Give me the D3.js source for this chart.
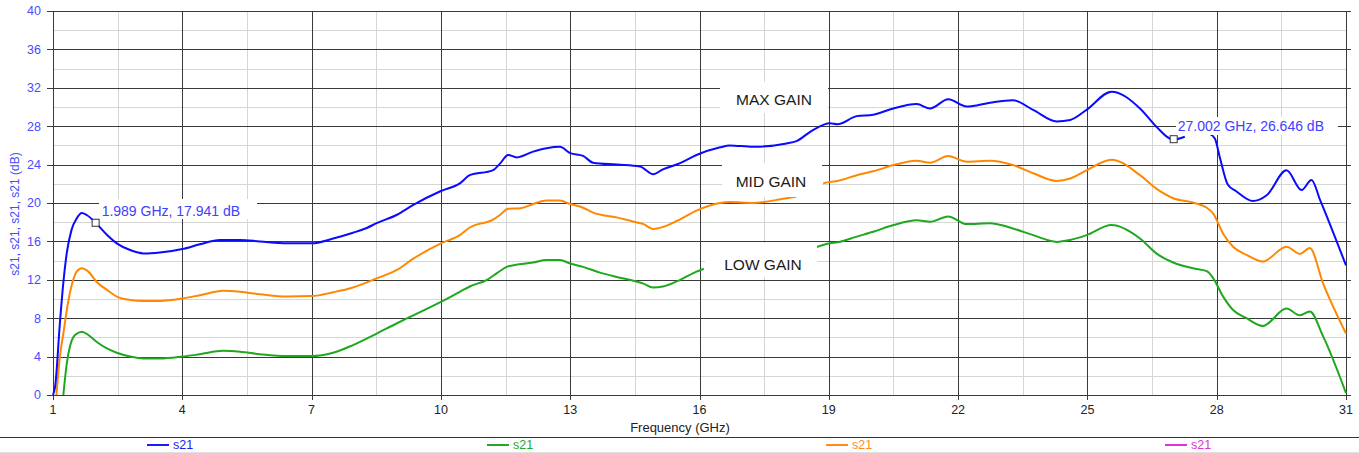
<!DOCTYPE html>
<html>
<head>
<meta charset="utf-8">
<script src="https://cdn.jsdelivr.net/npm/d3@7"></script>
<style>
  body { margin: 0; background: #fff; }
  text { font-family: "Liberation Sans", Arial, sans-serif; }
</style>
</head>
<body>
<svg width="1359" height="453"></svg>
<script>
// tick values
var xTicks = [1, 4, 7, 10, 13, 16, 19, 22, 25, 28, 31];
var xMinor = [2.5, 5.5, 8.5, 11.5, 14.5, 17.5, 20.5, 23.5, 26.5, 29.5];
var yTicks = [0, 4, 8, 12, 16, 20, 24, 28, 32, 36, 40];
var yMinor = [2, 6, 10, 14, 18, 22, 26, 30, 34, 38];

// MAX GAIN (blue), null = hidden behind a label
var maxFreq = [1.0, 1.05, 1.16, 1.24, 1.32, 1.43, 1.55, 1.67, 1.78, 1.989, 2.25, 2.48, 2.79, 3.1, 3.48, 4.0, 4.41, 4.87, 5.34, 5.8, 6.42, 7.0, 7.5, 7.96, 8.28, 8.51, 8.97, 9.36, 10.0, 10.44, 10.67, 11.2, 11.37, 11.56, 11.76, 12.14, 12.45, 12.76, 13.0, 13.3, 13.53, 14.08, 14.62, 14.92, 15.15, 15.55, 15.93, 16.48, 16.7, 17.24, 18.02, 18.25, 18.63, 19.03, 19.2, 19.65, 20.03, 20.5, 21.04, 21.35, 21.77, 22.2, 22.74, 23.27, 23.74, 24.29, 24.6, 24.98, 25.56, 26.22, 26.6, 26.99, 27.26, 27.5, 27.84, 27.96, 28.07, 28.26, 28.46, 28.84, 29.16, 29.62, 29.97, 30.2, 30.4, 31.0];
var maxDb = [0, 0.9, 7.5, 11.7, 14.8, 17.2, 18.4, 18.95, 18.75, 17.94, 16.7, 15.8, 15.1, 14.75, 14.85, 15.2, 15.7, 16.15, 16.15, 16.0, 15.8, 15.8, 16.3, 16.9, 17.4, 17.9, 18.75, 19.8, 21.25, 22.05, 22.9, 23.4, 24.1, 25.0, 24.75, 25.35, 25.7, 25.85, 25.2, 24.9, 24.2, 24.0, 23.8, 23.0, 23.5, 24.15, 25.0, 25.8, 26.0, 25.85, 26.2, 26.45, 27.6, 28.3, 28.2, 29.05, 29.2, 29.85, 30.3, 29.85, 30.8, 30.05, 30.45, 30.7, 29.7, 28.5, 28.65, 29.7, 31.6, 29.85, 27.95, 26.6, 26.9, null, 27.2, 26.7, 24.8, 21.9, 21.2, 20.2, 20.8, 23.4, 21.35, 22.4, 20.3, 13.5];

// MID GAIN (orange)
var midFreq = [1.08, 1.16, 1.24, 1.36, 1.47, 1.55, 1.67, 1.82, 2.01, 2.25, 2.48, 2.79, 3.1, 3.48, 4.0, 4.41, 4.95, 5.34, 5.8, 6.42, 7.0, 7.5, 7.96, 8.51, 8.97, 9.36, 10.0, 10.44, 10.67, 11.22, 11.37, 11.56, 11.84, 12.14, 12.45, 12.76, 13.0, 13.3, 13.53, 14.08, 14.47, 14.7, 14.92, 15.15, 15.55, 15.93, 16.48, 16.7, 17.24, 18.02, 18.25, 18.5, 18.87, 19.03, 19.2, 19.65, 20.03, 20.5, 21.04, 21.35, 21.77, 22.2, 22.74, 23.27, 23.74, 24.29, 24.6, 24.98, 25.56, 26.22, 26.6, 26.99, 27.45, 27.77, 27.92, 28.15, 28.38, 28.69, 29.07, 29.62, 29.93, 30.16, 30.47, 31.0];
var midDb = [0, 4.0, 6.4, 9.9, 12.0, 12.85, 13.2, 12.85, 11.8, 10.95, 10.25, 9.9, 9.8, 9.8, 10.05, 10.4, 10.85, 10.75, 10.5, 10.25, 10.3, 10.7, 11.2, 12.15, 13.0, 14.2, 15.8, 16.65, 17.45, 18.3, 18.75, 19.4, 19.45, 19.9, 20.25, 20.25, 19.9, 19.5, 19.0, 18.5, 18.05, 17.8, 17.3, 17.5, 18.3, 19.2, 20.0, 20.1, 20.0, 20.5, 20.65, null, 22.05, 22.2, 22.3, 22.9, 23.3, 23.95, 24.4, 24.2, 24.9, 24.3, 24.4, 23.95, 23.1, 22.3, 22.55, 23.4, 24.5, 22.9, 21.5, 20.5, 20.05, 19.5, 18.9, 16.8, 15.45, 14.6, 13.9, 15.45, 14.7, 15.3, 11.6, 6.4];

// LOW GAIN (green)
var lowFreq = [1.24, 1.32, 1.39, 1.51, 1.67, 1.82, 2.01, 2.25, 2.48, 2.79, 3.1, 3.48, 4.0, 4.41, 4.95, 5.34, 5.8, 6.42, 7.0, 7.5, 7.96, 8.51, 8.97, 9.36, 10.0, 10.44, 10.67, 11.07, 11.3, 11.56, 12.14, 12.45, 12.76, 13.0, 13.3, 13.69, 14.08, 14.47, 14.7, 14.92, 15.15, 15.55, 15.93, 16.1, 17.5, 18.68, 19.03, 19.2, 19.65, 20.03, 20.5, 21.04, 21.35, 21.77, 22.2, 22.74, 23.27, 23.74, 24.29, 24.6, 24.98, 25.56, 26.22, 26.6, 26.99, 27.45, 27.77, 27.92, 28.15, 28.38, 28.69, 29.07, 29.62, 29.93, 30.16, 30.47, 31.0];
var lowDb = [0, 3.3, 5.0, 6.25, 6.6, 6.25, 5.55, 4.85, 4.4, 4.0, 3.8, 3.8, 4.0, 4.25, 4.6, 4.5, 4.25, 4.05, 4.05, 4.4, 5.2, 6.4, 7.45, 8.3, 9.7, 10.75, 11.3, 12.0, 12.7, 13.4, 13.8, 14.05, 14.05, 13.7, 13.35, 12.75, 12.3, 11.9, 11.6, 11.2, 11.3, 12.0, 12.85, 13.15, null, 15.35, 15.8, 15.9, 16.5, 17.0, 17.7, 18.2, 18.05, 18.6, 17.8, 17.9, 17.35, 16.65, 15.95, 16.15, 16.65, 17.7, 16.3, 14.75, 13.8, 13.2, 12.9, 12.15, 10.25, 8.85, 8.0, 7.2, 9.0, 8.3, 8.7, 6.1, 0.2];

var markerFreq = [1.989, 27.002];
var markerDb = [17.941, 26.646];
var legendNames = ["s21", "s21", "s21", "s21"];
var legendColors = ["#1a1aff", "#22aa22", "#ff8c1a", "#dd33dd"];

var svg = d3.select("svg"),
    margin = {top: 11, right: 13, bottom: 58, left: 53},
    width = +svg.attr("width"),
    height = +svg.attr("height");

var x = d3.scaleLinear().domain([1, 31]).range([margin.left, width - margin.right]),
    y = d3.scaleLinear().domain([0, 40]).range([height - margin.bottom, margin.top]);

var grid = svg.append("g").attr("shape-rendering", "crispEdges");

grid.selectAll(".xminor").data(xMinor).enter().append("line")
    .attr("x1", function(d) { return Math.round(x(d)) + 0.5; })
    .attr("x2", function(d) { return Math.round(x(d)) + 0.5; })
    .attr("y1", y(40)).attr("y2", y(0))
    .attr("stroke", "#d6d6d6").attr("stroke-width", 1.5);

grid.selectAll(".yminor").data(yMinor).enter().append("line")
    .attr("x1", x(1)).attr("x2", x(31))
    .attr("y1", function(d) { return Math.round(y(d)) + 0.5; })
    .attr("y2", function(d) { return Math.round(y(d)) + 0.5; })
    .attr("stroke", "#d6d6d6").attr("stroke-width", 1.5);

grid.selectAll(".xmajor").data(xTicks).enter().append("line")
    .attr("x1", function(d) { return Math.round(x(d)) + 0.5; })
    .attr("x2", function(d) { return Math.round(x(d)) + 0.5; })
    .attr("y1", y(40)).attr("y2", y(0) + 5)
    .attr("stroke", "#3a3a3a");

grid.selectAll(".ymajor").data(yTicks).enter().append("line")
    .attr("x1", x(1) - 6).attr("x2", x(31) + 5)
    .attr("y1", function(d) { return Math.round(y(d)) + 0.5; })
    .attr("y2", function(d) { return Math.round(y(d)) + 0.5; })
    .attr("stroke", "#3a3a3a");

// tick labels
svg.append("g").selectAll("text").data(yTicks).enter().append("text")
    .attr("x", x(1) - 12)
    .attr("y", function(d) { return y(d); })
    .attr("dy", "0.35em")
    .attr("text-anchor", "end")
    .attr("font-size", 12.5)
    .attr("fill", "#4a4aff")
    .text(function(d) { return d; });

svg.append("g").selectAll("text").data(xTicks).enter().append("text")
    .attr("x", function(d) { return x(d); })
    .attr("y", y(0) + 10)
    .attr("dy", "0.71em")
    .attr("text-anchor", "middle")
    .attr("font-size", 12.5)
    .attr("fill", "#222")
    .text(function(d) { return d; });

svg.append("text")
    .attr("transform", "translate(19," + 214 + ") rotate(-90)")
    .attr("text-anchor", "middle")
    .attr("font-size", 12)
    .attr("fill", "#4a4aff")
    .text("s21, s21, s21, s21 (dB)");

svg.append("text")
    .attr("x", 680).attr("y", 432)
    .attr("text-anchor", "middle")
    .attr("font-size", 13)
    .attr("fill", "#222")
    .text("Frequency (GHz)");

// curves
var series = [
  {f: lowFreq, v: lowDb, color: "#1fa81f"},
  {f: midFreq, v: midDb, color: "#ff8800"},
  {f: maxFreq, v: maxDb, color: "#0a0aff"}
];

var line = d3.line()
    .defined(function(d) { return d[1] != null; })
    .curve(d3.curveMonotoneX)
    .x(function(d) { return x(d[0]); })
    .y(function(d) { return y(d[1]); });

svg.append("g").selectAll("path").data(series).enter().append("path")
    .attr("fill", "none")
    .attr("stroke", function(d) { return d.color; })
    .attr("stroke-width", 2)
    .attr("stroke-linejoin", "round")
    .attr("d", function(d) { return line(d.f.map(function(f, i) { return [f, d.v[i]]; })); });

// labels with white backing boxes
var labels = [
  {text: "MAX GAIN", x0: 720, y0: 82, x1: 828, y1: 113, tx: 774, ty: 99, size: 15.5, color: "#1a1a1a"},
  {text: "MID GAIN", x0: 722, y0: 163, x1: 822, y1: 197, tx: 771, ty: 181, size: 15.5, color: "#1a1a1a"},
  {text: "LOW GAIN", x0: 705, y0: 243, x1: 817, y1: 277, tx: 763, ty: 264, size: 15.5, color: "#1a1a1a"}
];

var lg = svg.append("g").selectAll("g").data(labels).enter().append("g");
lg.append("rect")
    .attr("x", function(d) { return d.x0; })
    .attr("y", function(d) { return d.y0; })
    .attr("width", function(d) { return d.x1 - d.x0; })
    .attr("height", function(d) { return d.y1 - d.y0; })
    .attr("fill", "#fff");
lg.append("text")
    .attr("x", function(d) { return d.tx; })
    .attr("y", function(d) { return d.ty; })
    .attr("dy", "0.36em")
    .attr("text-anchor", "middle")
    .attr("font-size", function(d) { return d.size; })
    .attr("fill", function(d) { return d.color; })
    .text(function(d) { return d.text; });

// marker readouts
var markerBoxes = [
  {x0: 99, y0: 199, x1: 257, y1: 219, dx: 6, dy: -7},
  {x0: 1176, y0: 117, x1: 1338, y1: 135, dx: 4, dy: -8}
];

var mg = svg.append("g").selectAll("g").data(markerFreq).enter().append("g");
mg.append("rect")
    .attr("x", function(d, i) { return markerBoxes[i].x0; })
    .attr("y", function(d, i) { return markerBoxes[i].y0; })
    .attr("width", function(d, i) { return markerBoxes[i].x1 - markerBoxes[i].x0; })
    .attr("height", function(d, i) { return markerBoxes[i].y1 - markerBoxes[i].y0; })
    .attr("fill", "#fff");
mg.append("text")
    .attr("x", function(d, i) { return x(d) + markerBoxes[i].dx; })
    .attr("y", function(d, i) { return y(markerDb[i]) + markerBoxes[i].dy; })
    .attr("font-size", 14)
    .attr("fill", "#4040ff")
    .text(function(d, i) { return d3.format(".3f")(d) + " GHz, " + d3.format(".3f")(markerDb[i]) + " dB"; });
mg.append("rect")
    .attr("x", function(d) { return x(d) - 3.5; })
    .attr("y", function(d, i) { return y(markerDb[i]) - 3.5; })
    .attr("width", 7).attr("height", 7)
    .attr("fill", "#fff")
    .attr("stroke", "#333");

// footer legend
svg.append("line").attr("x1", 0).attr("x2", width).attr("y1", 437.5).attr("y2", 437.5)
    .attr("stroke", "#333").attr("stroke-width", 1.2);
svg.append("line").attr("x1", 0).attr("x2", width).attr("y1", 452.5).attr("y2", 452.5)
    .attr("stroke", "#e0e0e0");

var legendX = [147, 487, 826, 1165];
var leg = svg.append("g").selectAll("g").data(legendNames).enter().append("g")
    .attr("transform", function(d, i) { return "translate(" + legendX[i] + ",445)"; });
leg.append("line").attr("x1", 0).attr("x2", 22)
    .attr("stroke", function(d, i) { return legendColors[i]; })
    .attr("stroke-width", 2);
leg.append("text").attr("x", 26).attr("dy", "0.35em")
    .attr("font-size", 12.5)
    .attr("fill", function(d, i) { return legendColors[i]; })
    .text(function(d) { return d; });
</script>
</body>
</html>
